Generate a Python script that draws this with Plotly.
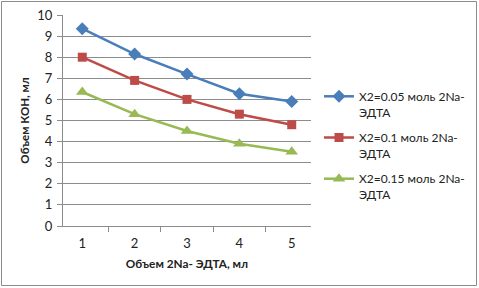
import plotly.graph_objects as go

categories = ["1", "2", "3", "4", "5"]
s1_name = "X2=0.05 моль 2Na-<br>ЭДТА"
s2_name = "X2=0.1 моль 2Na-<br>ЭДТА"
s3_name = "X2=0.15 моль 2Na-<br>ЭДТА"
s1 = [9.35, 8.15, 7.2, 6.27, 5.9]
s2 = [8.0, 6.9, 6.0, 5.3, 4.8]
s3 = [6.35, 5.3, 4.5, 3.9, 3.52]
y_ticks = list(range(0, 11))

W, H = 479, 288
L, R, T, B = 63, 311, 15, 226

fig = go.Figure()
fig.add_trace(go.Scatter(x=categories, y=s1, name=s1_name, mode="lines+markers", legendgroup="g1",
                         line=dict(color="#4A7EBB", width=2.5),
                         marker=dict(symbol="diamond", size=10, color="#4A7EBB")))
fig.add_trace(go.Scatter(x=categories, y=s2, name=s2_name, mode="lines+markers", legendgroup="g2",
                         line=dict(color="#BE4B48", width=2.5),
                         marker=dict(symbol="square", size=9, color="#BE4B48")))
fig.add_trace(go.Scatter(x=categories, y=s3, name=s3_name, mode="lines+markers", legendgroup="g3",
                         line=dict(color="#98B954", width=2.5),
                         marker=dict(symbol="triangle-up", size=11, color="#98B954")))

pw = R - L
ph = B - T
fig.add_shape(type="rect", xref="paper", yref="paper",
              x0=(1.5 - L) / pw, x1=(476.5 - L) / pw,
              y0=(B - 285.5) / ph, y1=(B - 1.5) / ph,
              line=dict(color="#8c8c8c", width=1), layer="above")

font = "Lato, Open Sans, sans-serif"
fig.update_layout(
    width=W, height=H,
    margin=dict(l=L, r=W - R, t=T, b=H - B, autoexpand=False),
    paper_bgcolor="white", plot_bgcolor="white",
    font=dict(family=font, size=13, color="#222"),
    showlegend=True,
    legend=dict(xref="container", yref="container", x=319 / W, y=1 - 82 / H,
                xanchor="left", yanchor="top", font=dict(size=12, color="#222"),
                tracegroupgap=7, bgcolor="rgba(0,0,0,0)", itemwidth=30, valign="top"),
    xaxis=dict(type="category", tickson="boundaries", ticks="outside", ticklen=5,
               tickcolor="#8c8c8c", showline=True, linecolor="#8c8c8c", linewidth=1,
               showgrid=False, zeroline=False, automargin=False, ticklabelstandoff=5,
               title=dict(text="<b>Объем 2Na- ЭДТА, мл</b>", font=dict(size=11.8), standoff=10)),
    yaxis=dict(range=[0, 10], tickvals=y_ticks, ticks="outside", ticklen=5,
               tickcolor="#8c8c8c", showline=True, linecolor="#8c8c8c", linewidth=1,
               showgrid=True, gridcolor="#8c8c8c", gridwidth=1, zeroline=False, automargin=False,
               ticklabelstandoff=2,
               title=dict(text="<b>Объем КОН, мл</b>", font=dict(size=11.5), standoff=5)),
)

fig.write_html("out.html", config={"displayModeBar": False},
               post_script="document.body.style.margin='0';")
